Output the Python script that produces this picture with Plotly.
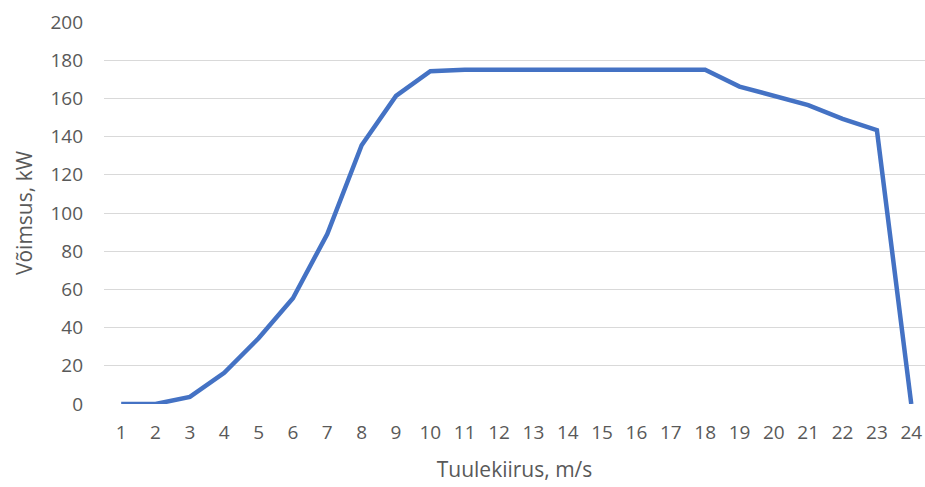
import plotly.graph_objects as go

wind_speed = list(range(1, 25))
power_kw = [0, 0, 3.7, 16.3, 34.4, 55.4, 89, 135.5, 161.3, 174.2, 175, 175, 175, 175,
            175, 175, 175, 175, 166.2, 161.5, 156.5, 149.3, 143.4, 0]
y_ticks = list(range(0, 201, 20))

FONT = "Open Sans"
TXT = "#595959"

fig = go.Figure()
fig.add_trace(go.Scatter(
    x=wind_speed, y=power_kw, mode="lines",
    line=dict(color="#4472C4", width=4.5),
    hoverinfo="x+y", showlegend=False,
))

fig.update_layout(
    width=925, height=487,
    margin=dict(l=104, r=0, t=22, b=83),
    paper_bgcolor="white", plot_bgcolor="white",
    font=dict(family=FONT, color=TXT, size=18),
    xaxis=dict(
        range=[0.5, 24.4], tickmode="array", tickvals=wind_speed,
        ticktext=[str(v) for v in wind_speed],
        showgrid=False, zeroline=False, showline=False,
        ticks="", ticklabelstandoff=15,
        tickfont=dict(size=19, family=FONT, color=TXT),
        title=dict(text="Tuulekiirus, m/s", font=dict(size=21, family=FONT, color=TXT), standoff=18),
    ),
    yaxis=dict(
        range=[0, 200], tickmode="array", tickvals=y_ticks,
        showgrid=True, gridcolor="#D9D9D9", gridwidth=1.3,
        zeroline=False, showline=False, ticks="", ticklabelstandoff=20,
        tickfont=dict(size=19, family=FONT, color=TXT),
        title=dict(text="Võimsus, kW", font=dict(size=21, family=FONT, color=TXT), standoff=12),
    ),
)

fig.write_html("out.html")
